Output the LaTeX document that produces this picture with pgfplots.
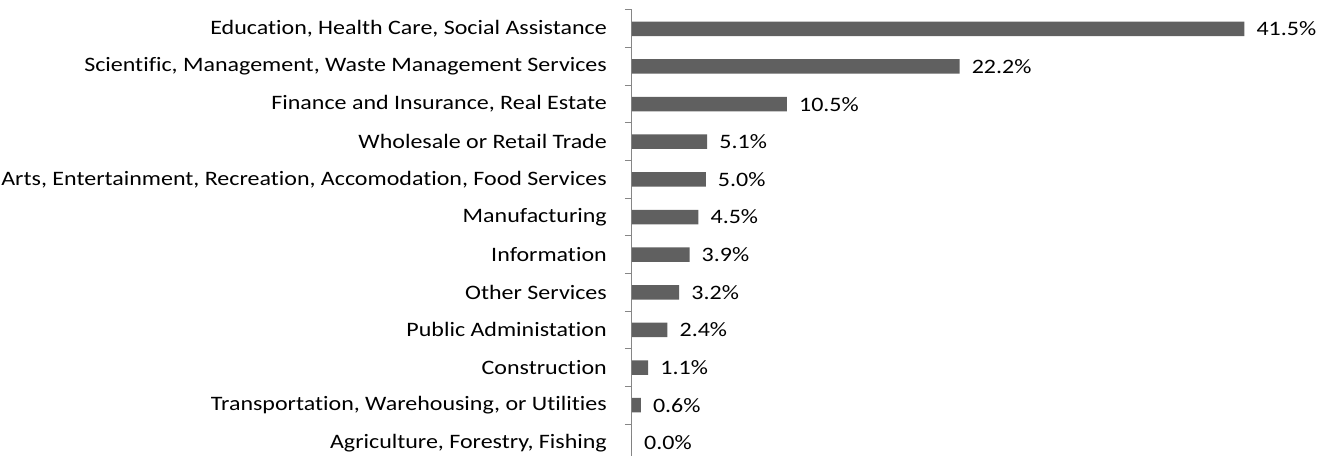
\documentclass[border=0pt]{standalone}
\usepackage{pgfplots}
\pgfplotsset{compat=1.18}
\usepackage{fontspec}
\setmainfont{Carlito}[Ligatures=NoCommon, FakeStretch=1.17]
\definecolor{barc}{HTML}{606060}
\definecolor{axc}{HTML}{868686}
\begin{document}
\fontsize{20.5pt}{24pt}\selectfont
\begin{tikzpicture}
\begin{axis}[
  name=ax, scale only axis, width=664pt, height=445.9pt,
  xmin=0, xmax=45, ymin=-0.346, ymax=11.5,
  xbar, bar width=0.385, clip=false,
  hide x axis, axis y line*=left,
  ytick={0,...,11},
  yticklabels={{Agriculture, Forestry, Fishing},{Transportation, Warehousing, or Utilities},{Construction},{Public Administation},{Other Services},{Information},{Manufacturing},{Arts, Entertainment, Recreation, Accomodation, Food Services},{Wholesale or Retail Trade},{Finance and Insurance, Real Estate},{Scientific, Management, Waste Management Services},{Education, Health Care, Social Assistance}},
  minor ytick={0.5,1.5,...,11.5},
  major tick length=0pt, minor tick length=7pt, tick align=outside,
  y axis line style={axc, line width=1pt},
  minor tick style={axc, line width=1pt},
  yticklabel style={font=\fontsize{20.5pt}{24pt}\selectfont, inner sep=0pt, xshift=-25pt, anchor=east},
  nodes near coords={\pgfmathprintnumber{\pgfplotspointmeta}\%},
  point meta=x,
  every node near coord/.append style={font=\fontsize{20.5pt}{24pt}\selectfont, anchor=west, inner sep=0pt, xshift=12pt, black},
  /pgf/number format/.cd, fixed, fixed zerofill, precision=1, assume math mode=true,
]
\addplot[fill=barc, draw=none] coordinates {(0.0,0) (0.6,1) (1.1,2) (2.4,3) (3.2,4) (3.9,5) (4.5,6) (5.0,7) (5.1,8) (10.5,9) (22.2,10) (41.5,11)};
\coordinate (tl) at (axis cs:0,11.5);
\coordinate (bl) at (axis cs:0,-0.346);
\end{axis}
\pgfresetboundingbox
\path[use as bounding box] ([xshift=-632pt,yshift=10pt]tl) rectangle ([xshift=696pt]bl);
\end{tikzpicture}
\end{document}
